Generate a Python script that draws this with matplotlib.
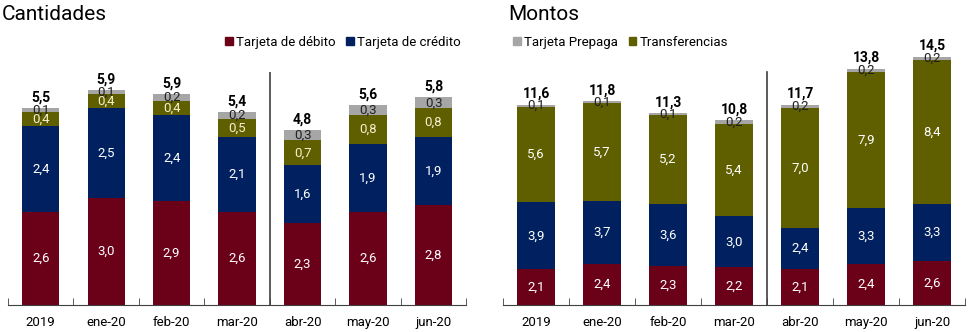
import matplotlib
matplotlib.use('Agg')

import matplotlib.pyplot as plt
from matplotlib.patches import Patch
import numpy as np

plt.rcParams['font.family'] = ['Roboto', 'DejaVu Sans']

meses = ['2019', 'ene-20', 'feb-20', 'mar-20', 'abr-20', 'may-20', 'jun-20']

# Cantidades
cant_debito = [2.6, 3.0, 2.9, 2.6, 2.3, 2.6, 2.8]
cant_credito = [2.4, 2.5, 2.4, 2.1, 1.6, 1.9, 1.9]
cant_transf = [0.4, 0.4, 0.4, 0.5, 0.7, 0.8, 0.8]
cant_prepaga = [0.1, 0.1, 0.2, 0.2, 0.3, 0.3, 0.3]
cant_total = [5.5, 5.9, 5.9, 5.4, 4.8, 5.6, 5.8]

# Montos
mont_debito = [2.1, 2.4, 2.3, 2.2, 2.1, 2.4, 2.6]
mont_credito = [3.9, 3.7, 3.6, 3.0, 2.4, 3.3, 3.3]
mont_transf = [5.6, 5.7, 5.2, 5.4, 7.0, 7.9, 8.4]
mont_prepaga = [0.1, 0.1, 0.1, 0.2, 0.2, 0.2, 0.2]
mont_total = [11.6, 11.8, 11.3, 10.8, 11.7, 13.8, 14.5]

c_debito = '#6b0019'
c_credito = '#002060'
c_transf = '#5f5f00'
c_prepaga = '#a6a6a6'


def fmt(v):
    return f'{v:.1f}'.replace('.', ',')


def draw_panel(ax, series, totals, ymax, sep_top):
    x = np.arange(len(meses))
    bottom = np.zeros(len(meses))
    for vals, color, txt in series:
        vals = np.array(vals)
        ax.bar(x, vals, 0.57, bottom=bottom, color=color, zorder=2)
        for xi, b, v in zip(x, bottom, vals):
            ax.text(xi, b + v / 2, fmt(v), ha='center', va='center',
                    fontsize=9.5, color=txt, zorder=3)
        bottom += vals
    for xi, b, t in zip(x, bottom, totals):
        ax.text(xi, b + ymax * 0.015, fmt(t), ha='center', va='bottom',
                fontsize=10, fontweight='bold', color='black')

    ax.set_xlim(-0.5, len(meses) - 0.5)
    ax.set_ylim(0, ymax)
    ax.axvline(3.5, ymin=0, ymax=sep_top, color='#404040', lw=1.2)
    for s in ['top', 'right', 'left']:
        ax.spines[s].set_visible(False)
    ax.spines['bottom'].set_color('#404040')
    ax.set_yticks([])
    ax.set_xticks(x)
    ax.set_xticklabels(meses, fontsize=9.5)
    ax.tick_params(axis='x', which='major', length=0, pad=8)
    ax.set_xticks(np.arange(-0.5, len(meses)), minor=True)
    ax.tick_params(axis='x', which='minor', direction='in', length=5,
                   color='#404040')


fig = plt.figure(figsize=(9.71, 3.32), dpi=100)

ax1 = fig.add_axes([0.0082, 0.081, 0.472, 0.701])
draw_panel(ax1,
           [(cant_debito, c_debito, 'white'),
            (cant_credito, c_credito, 'white'),
            (cant_transf, c_transf, '#f4f0d0'),
            (cant_prepaga, c_prepaga, '#202020')],
           cant_total, 6.5, 1.0)
fig.text(0.002, 0.955, 'Cantidades', fontsize=15, va='center', ha='left')
ax1.legend(handles=[Patch(color=c_debito, label='Tarjeta de débito'),
                    Patch(color=c_credito, label='Tarjeta de crédito')],
           loc='center right', bbox_to_anchor=(1.0, 1.13), ncol=2,
           frameon=False, fontsize=9.5, handlelength=0.6, handleheight=0.6,
           handletextpad=0.25, columnspacing=0.8, borderaxespad=0)

ax2 = fig.add_axes([0.518, 0.081, 0.476, 0.825])
draw_panel(ax2,
           [(mont_debito, c_debito, 'white'),
            (mont_credito, c_credito, 'white'),
            (mont_transf, c_transf, 'white'),
            (mont_prepaga, c_prepaga, '#202020')],
           mont_total, 16, 0.85)
fig.text(0.523, 0.955, 'Montos', fontsize=15, va='center', ha='left')
ax2.legend(handles=[Patch(color=c_prepaga, label='Tarjeta Prepaga'),
                    Patch(color=c_transf, label='Transferencias')],
           loc='center left', bbox_to_anchor=(0.01, 0.96), ncol=2,
           frameon=False, fontsize=9.5, handlelength=0.6, handleheight=0.6,
           handletextpad=0.25, columnspacing=0.8, borderaxespad=0)

fig.savefig('out.png', dpi=100)
plt.close(fig)
